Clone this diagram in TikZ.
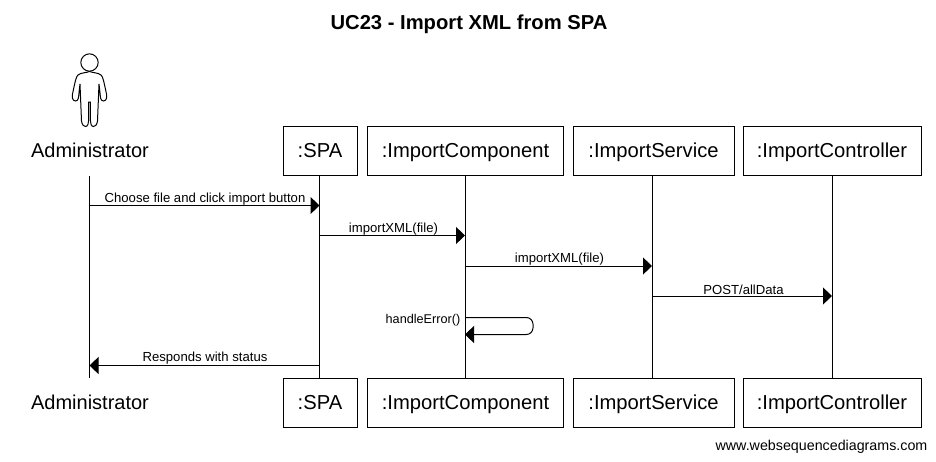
\documentclass[tikz,border=0pt]{standalone}
\usepackage{fontspec}
\setmainfont{Liberation Sans}
\usetikzlibrary{arrows.meta}
\begin{document}
\begin{tikzpicture}[
    x=0.75pt, y=-0.75pt,
    box/.style={rectangle, draw, line width=0.75pt, minimum height=36.75pt, inner sep=0pt, text height=11.5pt, text depth=1.1pt, font=\fontsize{15.15}{18}\selectfont},
    actorlabel/.style={text height=11.5pt, text depth=1.1pt, font=\fontsize{15}{18}\selectfont},
    msglabel/.style={font=\fontsize{9.85}{12}\selectfont, inner sep=0pt},
    lifeline/.style={line width=0.75pt},
    arrow/.style={-{Triangle[length=6.75pt,width=12.75pt]}, line width=0.75pt}
]
\useasboundingbox (0,0) rectangle (936,461);

\node[font=\bfseries\fontsize{15.15}{18}\selectfont] (title) at (469,24.5) {UC23 - Import XML from SPA};

% Actor figure
\node[circle, draw, line width=0.75pt, minimum size=13pt, inner sep=0pt] (head) at (89.5,62.5) {};
\draw[line width=0.75pt] (89.5,71.5) .. controls (86,73) and (81,72.5) .. (78,75) .. controls (76,77) and (75.5,80) .. (72.5,94)
    .. controls (72,96) and (72,101) .. (75.5,101) .. controls (79,101) and (78.5,96) .. (79,93) -- (80,84) -- (81.5,121)
    .. controls (82,125) and (84,126.5) .. (85.5,126.5) .. controls (88,126.5) and (88.5,123) .. (88.5,121) -- (88.7,102)
    -- (90.3,102) -- (90.5,121) .. controls (90.5,123) and (91,126.5) .. (93.5,126.5) .. controls (95,126.5) and (97,125) .. (97.5,121)
    -- (99,84) -- (100,93) .. controls (100.5,96) and (100,101) .. (103.5,101) .. controls (107,101) and (107,96) .. (106.5,94)
    .. controls (103.5,80) and (103,77) .. (101,75) .. controls (98,72.5) and (93,73) .. (89.5,71.5);

% Top row
\node[actorlabel] (admintop) at (90,150.5) {Administrator};
\node[box, minimum width=55.5pt] (spatop) at (320,150.5) {:SPA};
\node[box, minimum width=147pt] (comptop) at (465.5,150.5) {:ImportComponent};
\node[box, minimum width=120.75pt] (servtop) at (653.5,150.5) {:ImportService};
\node[box, minimum width=133.5pt] (conttop) at (832,150.5) {:ImportController};

% Bottom row
\node[actorlabel] (adminbot) at (90,403) {Administrator};
\node[box, minimum width=55.5pt] (spabot) at (320,403) {:SPA};
\node[box, minimum width=147pt] (compbot) at (465.5,403) {:ImportComponent};
\node[box, minimum width=120.75pt] (servbot) at (653.5,403) {:ImportService};
\node[box, minimum width=133.5pt] (contbot) at (832,403) {:ImportController};

% Lifelines
\coordinate (adminstart) at (89.5,176);
\coordinate (adminend) at (89.5,378);
\coordinate (spastart) at (319.5,175.5);
\coordinate (spaend) at (319.5,378.5);
\coordinate (compstart) at (465,175.5);
\coordinate (compend) at (465,378.5);
\coordinate (servstart) at (652,175.5);
\coordinate (servend) at (652,378.5);
\coordinate (contstart) at (832,175.5);
\coordinate (contend) at (832,378.5);
\draw[lifeline] (adminstart) -- (adminend);
\draw[lifeline] (spastart) -- (spaend);
\draw[lifeline] (compstart) -- (compend);
\draw[lifeline] (servstart) -- (servend);
\draw[lifeline] (contstart) -- (contend);

% Message end points
\coordinate (m1a) at (89.5,205.5);
\coordinate (m1b) at (319.5,205.5);
\coordinate (m2a) at (319.5,235.5);
\coordinate (m2b) at (465,235.5);
\coordinate (m3a) at (465,266);
\coordinate (m3b) at (652,266);
\coordinate (m4a) at (652,296);
\coordinate (m4b) at (832,296);
\coordinate (m5a) at (465,317.5);
\coordinate (m5b) at (465,334.5);
\coordinate (m5c) at (533,317.5);
\coordinate (m5d) at (533,334.5);
\coordinate (m6a) at (319.5,365.5);
\coordinate (m6b) at (89.5,365.5);

% Messages
\draw[arrow] (m1a) -- (m1b);
\draw[arrow] (m2a) -- (m2b);
\draw[arrow] (m3a) -- (m3b);
\draw[arrow] (m4a) -- (m4b);
\draw[arrow, rounded corners=5pt] (m5a) -- (m5c) -- (m5d) -- (m5b);
\draw[arrow] (m6a) -- (m6b);

% Message labels
\node[msglabel] (m1label) at (205,199) {Choose file and click import button};
\node[msglabel] (m2label) at (393.5,229) {importXML(file)};
\node[msglabel] (m3label) at (559.5,259) {importXML(file)};
\node[msglabel] (m4label) at (743.5,289.5) {POST/allData};
\node[msglabel, font=\fontsize{9.5}{12}\selectfont] (m5label) at (423,320) {handleError()};
\node[msglabel] (m6label) at (205,358) {Responds with status};

\node[font=\fontsize{10.7}{12}\selectfont, inner sep=0pt] (site) at (821.5,447) {www.websequencediagrams.com};
\end{tikzpicture}
\end{document}
